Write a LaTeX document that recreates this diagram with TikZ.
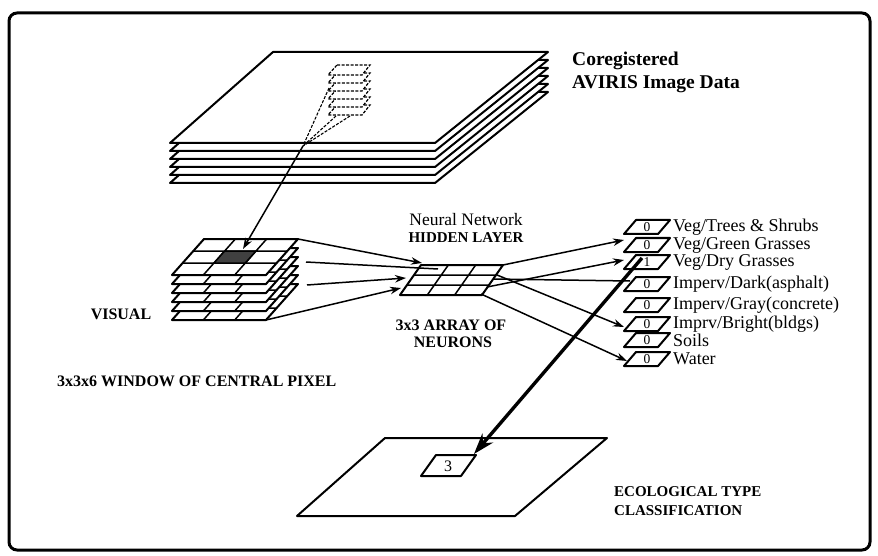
\documentclass[tikz,border=0pt]{standalone}
\usepackage{fontspec}
\setmainfont{Liberation Serif}
\usetikzlibrary{arrows.meta}
\tikzset{
  plane/.style={line width=2pt, fill=white, line join=round},
  dplane/.style={line width=1.2pt, dashed, dash pattern=on 3pt off 1.5pt, fill=white},
  gridline/.style={line width=1.5pt},
  conn/.style={line width=1.5pt, -{Stealth[length=11pt,width=7.5pt]}},
  plain/.style={line width=1.5pt},
  bigarrow/.style={line width=3.4pt, -{Stealth[length=21pt,width=14pt]}},
  lbl/.style={font=\fontsize{18}{20}\selectfont, inner sep=0pt, anchor=west},
  head/.style={font=\fontsize{19.5}{22}\selectfont\bfseries, inner sep=0pt, anchor=west},
  caps/.style={font=\fontsize{16}{18}\selectfont\bfseries, inner sep=0pt},
  num/.style={font=\fontsize{13.5}{14}\selectfont, inner sep=0pt},
}
\begin{document}
\begin{tikzpicture}[x=1pt,y=-1pt]
\useasboundingbox (0,0) rectangle (878,556);
\draw[line width=3pt, rounded corners=8pt] (9,13) rectangle (870,550);

% ---------- AVIRIS stack ----------
\foreach \i in {5,4,...,0} {
  \draw[plane] (273,{52+8*\i}) -- (548,{52+8*\i}) -- (435,{143+8*\i}) -- (170,{143+8*\i}) -- cycle;
}
\foreach \i in {5,4,...,0} {
  \draw[dplane] (337,{65+8*\i}) -- (370,{65+8*\i}) -- (362,{75+8*\i}) -- (328,{75+8*\i}) -- cycle;
}
\coordinate (s1) at (329,88);
\coordinate (s2) at (336,116);
\coordinate (s3) at (350,116);
\coordinate (sj) at (303,146);
\draw[line width=1.1pt, dashed, dash pattern=on 3pt off 1.5pt] (s1) -- (sj);
\draw[line width=1.1pt, dashed, dash pattern=on 3pt off 1.5pt] (s2) -- (sj);
\draw[line width=1.1pt, dashed, dash pattern=on 3pt off 1.5pt] (s3) -- (sj);

\node[head] (core) at (572,61) {Coregistered};
\node[head] (aviris) at (572,84) {AVIRIS Image Data};

% ---------- 3x3x6 window ----------
\foreach \i in {5,4,...,0} {
\begin{scope}[shift={(0,{9*\i})}]
  \draw[plane] (204,239) -- (298,239) -- (266,275) -- (172,275) -- cycle;
  \draw[gridline] (235.33,239) -- (203.33,275) (266.67,239) -- (234.67,275)
                  (193.33,251) -- (287.33,251) (182.67,263) -- (276.67,263);
\end{scope}
}
\fill[black!75] (224.67,251) -- (256,251) -- (245.33,263) -- (214,263) -- cycle;
\draw[gridline] (224.67,251) -- (256,251) -- (245.33,263) -- (214,263) -- cycle;
\coordinate (win) at (243,249);
\draw[conn] (sj) -- (win);

\node[caps] (visual) at (121,314) {VISUAL};
\node[caps, anchor=west] (window) at (57,381) {3x3x6 WINDOW OF CENTRAL PIXEL};

% ---------- hidden layer ----------
\draw[plane] (421,265) -- (503,265) -- (482,295) -- (400,295) -- cycle;
\draw[gridline] (448.33,265) -- (427.33,295) (475.67,265) -- (454.67,295)
                (414,275) -- (496,275) (407,285) -- (489,285);
\node[font=\fontsize{17.5}{19}\selectfont, inner sep=0pt] (nn) at (466,220) {Neural Network};
\node[font=\fontsize{15}{17}\selectfont\bfseries, inner sep=0pt] (hl) at (466,238) {HIDDEN LAYER};
\node[caps] (arr) at (451,325) {3x3 ARRAY OF};
\node[caps] (neur) at (453,342) {NEURONS};

\coordinate (w1) at (298,239);
\coordinate (w2) at (306,262);
\coordinate (w3) at (307,285);
\coordinate (w4) at (266,320);
\coordinate (h1) at (422,263);
\coordinate (h2) at (438,269);
\coordinate (h3) at (406,278);
\coordinate (h4) at (401,288);
\draw[conn] (w1) -- (h1);
\draw[plain] (w2) -- (h2);
\draw[conn] (w3) -- (h3);
\draw[conn] (w4) -- (h4);

% ---------- output planes ----------
\foreach \L/\v in {227/0, 245/0, 262/1, 284/0, 305/0, 324/0, 340/0, 359/0} {
  \draw[plane] (636,{\L-7}) -- (670,{\L-7}) -- (658,{\L+7}) -- (624,{\L+7}) -- cycle;
  \node[num] at (647,\L) {\v};
}
\node[lbl] (c1) at (673,227) {Veg/Trees \& Shrubs};
\node[lbl] (c2) at (673,245) {Veg/Green Grasses};
\node[lbl] (c3) at (673,262) {Veg/Dry Grasses};
\node[lbl] (c4) at (673,284) {Imperv/Dark(asphalt)};
\node[lbl] (c5) at (673,305) {Imperv/Gray(concrete)};
\node[lbl] (c6) at (673,324) {Imprv/Bright(bldgs)};
\node[lbl] (c7) at (673,340) {Soils};
\node[lbl] (c8) at (673,359) {Water};

\coordinate (o0) at (503,265);
\coordinate (o1) at (487,287);
\coordinate (o2) at (493,279);
\coordinate (o3) at (497,275);
\coordinate (o4) at (481,294);
\coordinate (g) at (624,240);
\coordinate (d) at (624,260);
\coordinate (k) at (630,281);
\coordinate (b) at (624,327);
\coordinate (wa) at (627,361);
\draw[conn] (o0) -- (g);
\draw[conn] (o1) -- (d);
\draw[plain] (o2) -- (k);
\draw[conn] (o3) -- (b);
\draw[conn] (o4) -- (wa);

% ---------- classification plane ----------
\draw[plane] (385,438) -- (607,438) -- (515,516) -- (297,516) -- cycle;
\draw[plane] (436,455) -- (476,455) -- (461,476) -- (421,476) -- cycle;
\node[font=\fontsize{16}{18}\selectfont, inner sep=0pt] (three) at (448,466) {3};
\coordinate (dry) at (642,258);
\coordinate (cell) at (474,454);
\draw[bigarrow] (dry) -- (cell);

\node[caps, anchor=west, font=\fontsize{15}{17}\selectfont\bfseries] (eco) at (614,492) {ECOLOGICAL TYPE};
\node[caps, anchor=west, font=\fontsize{15}{17}\selectfont\bfseries] (cls) at (614,511) {CLASSIFICATION};
\end{tikzpicture}
\end{document}
